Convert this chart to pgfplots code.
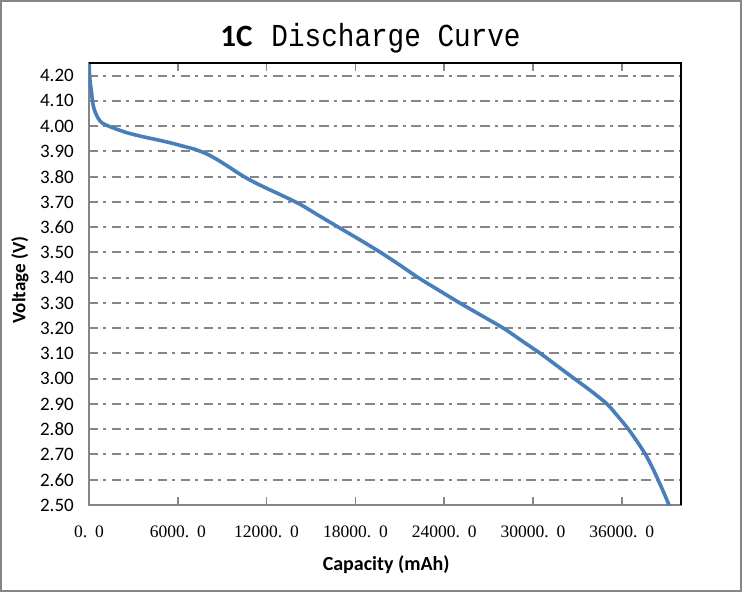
\documentclass[border=0pt]{standalone}
\usepackage{fontspec}
\setmainfont{Carlito}
\newfontfamily\simfont{Liberation Serif}
\newfontfamily\monofont{Liberation Mono}
\usepackage{pgfplots}
\pgfplotsset{compat=1.18}
\usetikzlibrary{calc}
\definecolor{curveblue}{RGB}{74,126,187}
\definecolor{gridgray}{RGB}{134,134,134}
\begin{document}
\begin{tikzpicture}
\begin{axis}[
  name=ax,
  scale only axis, width=592pt, height=442pt,
  xmin=0, xmax=40000, ymin=2.5, ymax=4.25,
  axis line style={gridgray, line width=2pt},
  xtick={0,6000,12000,18000,24000,30000,36000},
  xticklabels={0.\hspace{0.45em}0, 6000.\hspace{0.45em}0, 12000.\hspace{0.45em}0, 18000.\hspace{0.45em}0, 24000.\hspace{0.45em}0, 30000.\hspace{0.45em}0, 36000.\hspace{0.45em}0},
  xticklabel style={font=\simfont\fontsize{17.5}{17.5}\selectfont, anchor=north, inner sep=0pt, yshift=-21pt},
  x tick style={gridgray, line width=1.8pt},
  tick align=inside, major tick length=8pt,
  ytick={2.5,2.6,...,4.21},
  y tick style={draw=none},
  yticklabel style={font=\fontsize{19}{19}\selectfont, anchor=east, inner sep=0pt, xshift=-15pt},
  y tick label style={/pgf/number format/fixed, /pgf/number format/fixed zerofill, /pgf/number format/precision=2, /pgf/number format/assume math mode=true},
  scaled x ticks=false,
  ymajorgrids=true,
  grid style={gridgray, line width=2pt, dash pattern=on 9.5pt off 5pt on 3pt off 5.5pt},
  title={{\bfseries\fontsize{31}{31}\selectfont 1C}\hspace{19pt}\scalebox{0.865}[1]{\monofont\fontsize{32}{32}\selectfont Discharge Curve}},
  title style={at={(axis description cs:0.4755,1.0242)}, anchor=base, inner sep=0pt},
  xlabel={\bfseries Capacity (mAh)},
  xlabel style={font=\fontsize{20}{20}\selectfont, at={(axis description cs:0.502,-0.136)}, anchor=center, inner sep=0pt},
  ylabel={\bfseries Voltage (V)},
  ylabel style={font=\fontsize{19}{19}\selectfont, at={(axis description cs:-0.1166,0.509)}, anchor=center, inner sep=0pt},
  clip=true,
  after end axis/.code={
    \draw[black, line width=2.2pt] (rel axis cs:0,1) -- (rel axis cs:1,1) -- (rel axis cs:1,0);
  },
]
\addplot[curveblue, line width=3.6pt, line join=round, line cap=round, smooth, tension=0.5] coordinates {
(0,4.26) (40,4.20) (110,4.16) (180,4.13) (230,4.10) (360,4.065) (610,4.032)
(880,4.013) (1330,4.000) (2450,3.976) (3500,3.960) (4600,3.946) (5500,3.934)
(6400,3.920) (7000,3.911) (7500,3.901) (8100,3.886) (8650,3.868) (9200,3.848)
(9700,3.829) (10250,3.808) (10900,3.786) (11500,3.768) (12000,3.754)
(13100,3.724) (14250,3.691) (15500,3.647) (16850,3.600)
(18300,3.550) (19700,3.500) (21000,3.450) (22250,3.400) (23700,3.348)
(25050,3.300) (26500,3.251) (28000,3.200) (29300,3.148) (30500,3.100)
(31650,3.050) (32800,3.000) (33950,2.950) (35000,2.900) (35750,2.850)
(36450,2.800) (37050,2.750) (37600,2.700) (38050,2.650) (38450,2.600)
(38830,2.550) (39190,2.500)
};
\end{axis}
\draw[gridgray, line width=2.5pt] ($(ax.south west)+(-87.75pt,-85.75pt)$) rectangle ($(ax.south west)+(651.75pt,503.75pt)$);
\pgfresetboundingbox
\useasboundingbox ($(ax.south west)+(-89pt,-87pt)$) rectangle ($(ax.south west)+(653pt,505pt)$);
\end{tikzpicture}
\end{document}
